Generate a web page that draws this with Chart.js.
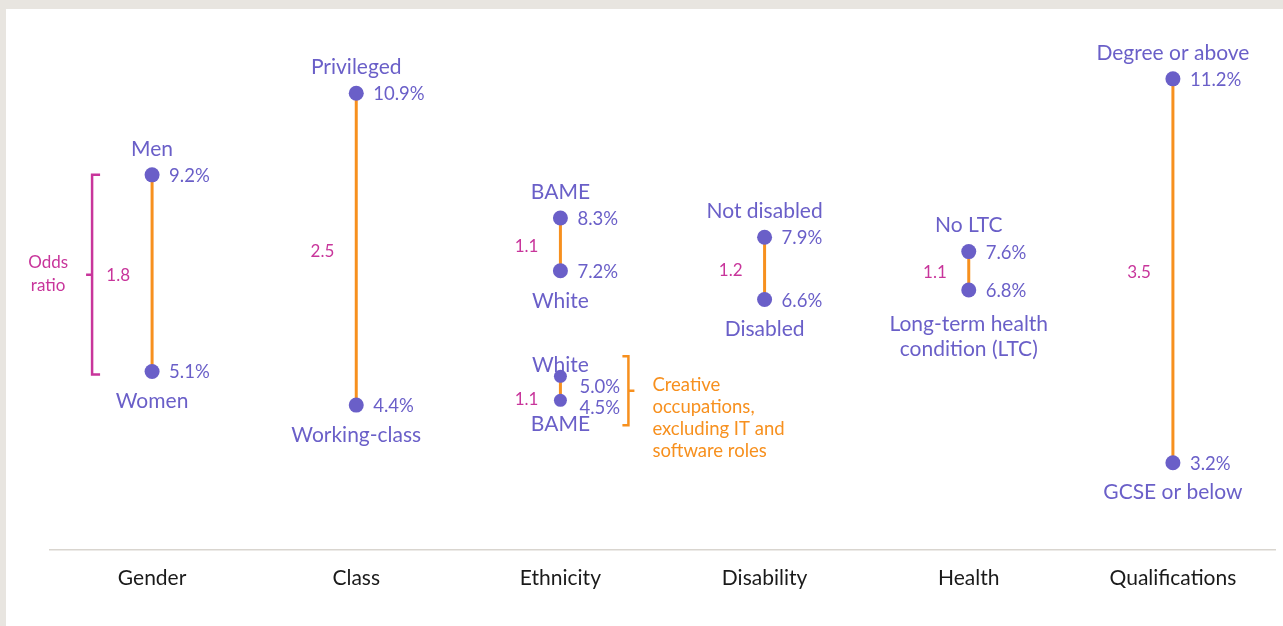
<!DOCTYPE html>
<html>
<head>
<meta charset="utf-8">
<script src="https://cdn.jsdelivr.net/npm/chart.js@4"></script>
<style>
  html, body { margin: 0; padding: 0; background: #e8e5e0; }
  #wrap { position: absolute; left: 6px; top: 9px; width: 1277px; height: 617px; background: #ffffff; }
</style>
</head>
<body>
<div id="wrap"><canvas id="myChart" width="1277" height="617"></canvas></div>
<script>
// Datos de la gráfica
const categories = ['Gender', 'Class', 'Ethnicity', 'Disability', 'Health', 'Qualifications'];
const highValues = [9.2, 10.9, 8.3, 7.9, 7.6, 11.2];
const lowValues = [5.1, 4.4, 7.2, 6.6, 6.8, 3.2];
const highLabels = ['Men', 'Privileged', 'BAME', 'Not disabled', 'No LTC', 'Degree or above'];
const lowLabels = [['Women'], ['Working-class'], ['White'], ['Disabled'], ['Long-term health', 'condition (LTC)'], ['GCSE or below']];
const oddsRatios = ['1.8', '2.5', '1.1', '1.2', '1.1', '3.5'];

// Ocupaciones creativas (Ethnicity, segundo par)
const creativeValues = [5.0, 4.5];
const creativeLabels = ['White', 'BAME'];
const creativeOdds = '1.1';
const creativeNote = ['Creative', 'occupations,', 'excluding IT and', 'software roles'];

const PURPLE = '#6a5fc8';
const ORANGE = '#f7901e';
const PINK = '#c8359b';
const FONT = 'Lato, "Open Sans", sans-serif';

var datasets = categories.map((c, i) => ({
    data: [{x: c, y: highValues[i]}, {x: c, y: lowValues[i]}],
    borderColor: ORANGE,
    borderWidth: 3,
    pointBackgroundColor: PURPLE,
    pointBorderWidth: 0,
    pointRadius: 7.5
}));
datasets.push({
    data: [{x: 'Ethnicity', y: creativeValues[0]}, {x: 'Ethnicity', y: creativeValues[1]}],
    borderColor: ORANGE,
    borderWidth: 3,
    pointBackgroundColor: PURPLE,
    pointBorderWidth: 0,
    pointRadius: 6.5
});

function txt(ctx, s, x, y, color, size, align) {
    ctx.fillStyle = color;
    ctx.font = size + 'px ' + FONT;
    ctx.textAlign = align || 'center';
    ctx.textBaseline = 'middle';
    ctx.fillText(s, x, y);
}

// Etiquetas dibujadas encima
const labelPlugin = {
    id: 'labels',
    afterDatasetsDraw(chart) {
        const ctx = chart.ctx;
        const xs = chart.scales.x, ys = chart.scales.y;
        ctx.save();
        categories.forEach((c, i) => {
            const x = xs.getPixelForValue(i);
            const yh = ys.getPixelForValue(highValues[i]);
            const yl = ys.getPixelForValue(lowValues[i]);
            txt(ctx, highLabels[i], x, yh - 26, PURPLE, 21);
            lowLabels[i].forEach((l, k) => {
                txt(ctx, l, x, yl + (lowLabels[i].length > 1 ? 34 : 30) + k * 25, PURPLE, 21);
            });
            txt(ctx, highValues[i].toFixed(1) + '%', x + 17, yh + 1, PURPLE, 18.5, 'left');
            txt(ctx, lowValues[i].toFixed(1) + '%', x + 17, yl + 1, PURPLE, 18.5, 'left');
            txt(ctx, oddsRatios[i], x - 22, (yh + yl) / 2 + 2, PINK, 17, 'right');
        });

        // Corchete "Odds ratio" (Gender)
        const gx = xs.getPixelForValue(0);
        const gTop = ys.getPixelForValue(highValues[0]);
        const gBot = ys.getPixelForValue(lowValues[0]) + 3;
        const bx = gx - 60;
        ctx.strokeStyle = PINK;
        ctx.lineWidth = 2.5;
        ctx.beginPath();
        ctx.moveTo(bx + 8, gTop); ctx.lineTo(bx, gTop); ctx.lineTo(bx, gBot); ctx.lineTo(bx + 8, gBot);
        ctx.moveTo(bx, (gTop + gBot) / 2); ctx.lineTo(bx - 6, (gTop + gBot) / 2);
        ctx.stroke();
        txt(ctx, 'Odds', bx - 44, (gTop + gBot) / 2 - 12, PINK, 17);
        txt(ctx, 'ratio', bx - 44, (gTop + gBot) / 2 + 11, PINK, 17);

        // Ocupaciones creativas
        const ex = xs.getPixelForValue(2);
        const c1 = ys.getPixelForValue(creativeValues[0]);
        const c2 = ys.getPixelForValue(creativeValues[1]);
        txt(ctx, creativeLabels[0], ex, c1 - 11, PURPLE, 21);
        txt(ctx, creativeLabels[1], ex, c2 + 24, PURPLE, 21);
        txt(ctx, creativeValues[0].toFixed(1) + '%', ex + 19, c1 + 11, PURPLE, 18.5, 'left');
        txt(ctx, creativeValues[1].toFixed(1) + '%', ex + 19, c2 + 8, PURPLE, 18.5, 'left');
        txt(ctx, creativeOdds, ex - 22, (c1 + c2) / 2 + 11, PINK, 17, 'right');
        const ox = ex + 68;
        const oTop = c1 - 20, oBot = c2 + 25;
        ctx.strokeStyle = ORANGE;
        ctx.beginPath();
        ctx.moveTo(ox - 6, oTop); ctx.lineTo(ox, oTop); ctx.lineTo(ox, oBot); ctx.lineTo(ox - 6, oBot);
        ctx.moveTo(ox, (oTop + oBot) / 2); ctx.lineTo(ox + 6, (oTop + oBot) / 2);
        ctx.stroke();
        creativeNote.forEach((l, k) => {
            txt(ctx, l, ox + 24, oTop + 29 + k * 22, ORANGE, 18.5, 'left');
        });
        ctx.restore();
    }
};

var ctx = document.getElementById('myChart').getContext('2d');
var myChart = new Chart(ctx, {
    type: 'line',
    data: {
        labels: categories,
        datasets: datasets
    },
    options: {
        responsive: false,
        animation: false,
        layout: { padding: { left: 44, right: 8, top: 3, bottom: 0 } },
        plugins: { legend: { display: false }, tooltip: { enabled: false } },
        scales: {
            x: {
                offset: true,
                grid: { display: false, drawTicks: false, offset: true },
                border: { display: true, color: '#d9d5cf', width: 1.5 },
                ticks: { color: '#1a1a1a', font: { family: FONT, size: 21 }, padding: 16 },
                afterFit: s => { s.height = 76; }
            },
            y: {
                display: false,
                min: 1.38,
                max: 12.5
            }
        }
    },
    plugins: [labelPlugin]
});
</script>
</body>
</html>
